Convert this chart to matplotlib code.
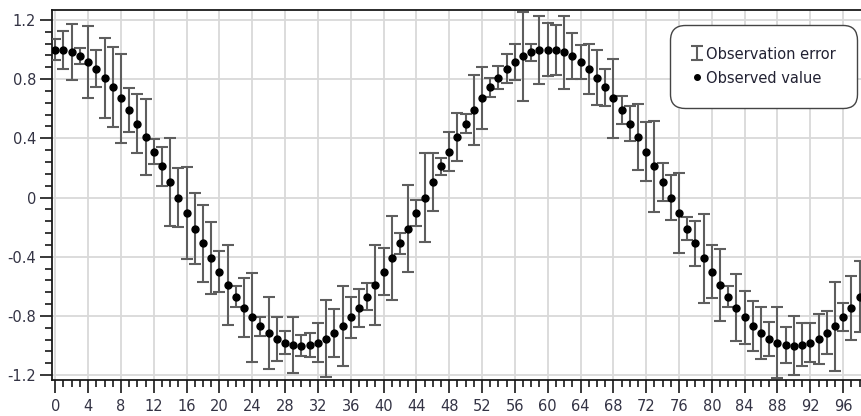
import numpy as np
import matplotlib
matplotlib.use("Agg")
import matplotlib.pyplot as plt
from matplotlib.lines import Line2D
from matplotlib.ticker import MultipleLocator

# ---- data ----
x_values = list(range(0, 99))
observed = [
    1.00, 0.995, 0.985, 0.955, 0.915, 0.87, 0.81, 0.745, 0.67, 0.59,
    0.50, 0.41, 0.31, 0.21, 0.105, 0.0, -0.105, -0.21, -0.31, -0.41,
    -0.50, -0.59, -0.67, -0.745, -0.81, -0.87, -0.915, -0.955, -0.98, -0.995,
    -1.0, -0.995, -0.98, -0.955, -0.915, -0.87, -0.81, -0.745, -0.67, -0.59,
    -0.50, -0.41, -0.31, -0.21, -0.105, 0.0, 0.105, 0.21, 0.31, 0.41,
    0.50, 0.59, 0.67, 0.745, 0.81, 0.87, 0.915, 0.955, 0.98, 0.995,
    1.0, 0.995, 0.98, 0.955, 0.915, 0.87, 0.81, 0.745, 0.67, 0.59,
    0.50, 0.41, 0.31, 0.21, 0.105, 0.0, -0.105, -0.21, -0.31, -0.41,
    -0.50, -0.59, -0.67, -0.745, -0.81, -0.87, -0.915, -0.955, -0.98, -0.995,
    -1.0, -0.995, -0.98, -0.955, -0.915, -0.87, -0.81, -0.745, -0.67,
]
obs_error = [
    0.07, 0.13, 0.19, 0.055, 0.245, 0.125, 0.27, 0.27, 0.30, 0.15,
    0.20, 0.255, 0.085, 0.13, 0.30, 0.20, 0.31, 0.24, 0.26, 0.245,
    0.14, 0.27, 0.07, 0.20, 0.30, 0.065, 0.245, 0.15, 0.075, 0.19,
    0.072, 0.08, 0.13, 0.26, 0.165, 0.27, 0.14, 0.13, 0.09, 0.27,
    0.16, 0.285, 0.07, 0.295, 0.09, 0.30, 0.195, 0.06, 0.13, 0.16,
    0.065, 0.235, 0.21, 0.065, 0.08, 0.097, 0.12, 0.30, 0.06, 0.23,
    0.18, 0.17, 0.245, 0.155, 0.115, 0.17, 0.185, 0.125, 0.265, 0.095,
    0.12, 0.225, 0.20, 0.305, 0.13, 0.155, 0.27, 0.075, 0.15, 0.30,
    0.18, 0.245, 0.07, 0.225, 0.18, 0.17, 0.175, 0.115, 0.24, 0.12,
    0.20, 0.145, 0.13, 0.17, 0.145, 0.30, 0.095, 0.215, 0.24,
]
x_ticks = list(range(0, 100, 4))
y_ticks = [-1.2, -0.8, -0.4, 0.0, 0.4, 0.8, 1.2]
y_tick_labels = ["-1.2", "-0.8", "-0.4", "0", "0.4", "0.8", "1.2"]
labels = ["Observation error", "Observed value"]

plt.rcParams['font.family'] = ['DejaVu Sans']

W, H = 862, 416
fig = plt.figure(figsize=(W / 100, H / 100), dpi=100)
ax = fig.add_axes([52 / W, (H - 380) / H, (W - 52) / W, (380 - 10) / H])

ax.set_xlim(-0.4, 98.3)
ax.set_ylim(-1.233, 1.267)

err = ax.errorbar(x_values, observed, yerr=obs_error, fmt='none',
                  ecolor='#5e5e5e', elinewidth=1.5, capsize=4.5,
                  capthick=1.5, zorder=3)
ax.plot(x_values, observed, 'o', color='black', markersize=5, zorder=4)

ax.set_xticks(x_ticks)
ax.xaxis.set_minor_locator(MultipleLocator(1))
ax.set_yticks(y_ticks)
ax.set_yticklabels(y_tick_labels)
ax.yaxis.set_minor_locator(MultipleLocator(0.08))

ax.grid(True, which='major', color='#d9d9d9', linewidth=1.3, zorder=0)
ax.set_axisbelow(True)

tick_color = '#333344'
ax.tick_params(axis='both', which='major', length=9, width=1.3,
               color='#2a2a2a', labelsize=10.5, labelcolor=tick_color)
ax.tick_params(axis='x', which='major', pad=5)
ax.tick_params(axis='y', which='major', pad=2.5)
ax.tick_params(axis='both', which='minor', length=5, width=1.3, color='#2a2a2a')

ax.spines['right'].set_visible(False)
for s in ['left', 'bottom', 'top']:
    ax.spines[s].set_color('#1a1a1a')
    ax.spines[s].set_linewidth(1.3)

dot_handle = Line2D([], [], marker='o', linestyle='none', color='black', markersize=4)
leg = ax.legend([err, dot_handle], labels, loc='upper left',
                bbox_to_anchor=(670 / W, (H - 25) / H), bbox_transform=fig.transFigure,
                fontsize=10.5, frameon=True, fancybox=True, handlelength=0.7,
                handletextpad=0.25, borderpad=1.5, labelspacing=0.6,
                borderaxespad=0, handleheight=1.2)
frame = leg.get_frame()
frame.set_edgecolor('#444444')
frame.set_linewidth(1.0)
frame.set_facecolor('white')
frame.set_alpha(1)
frame.set_boxstyle('round,pad=0,rounding_size=1.0')
for t in leg.get_texts():
    t.set_color('#222233')

fig.savefig('out.png', dpi=100)
